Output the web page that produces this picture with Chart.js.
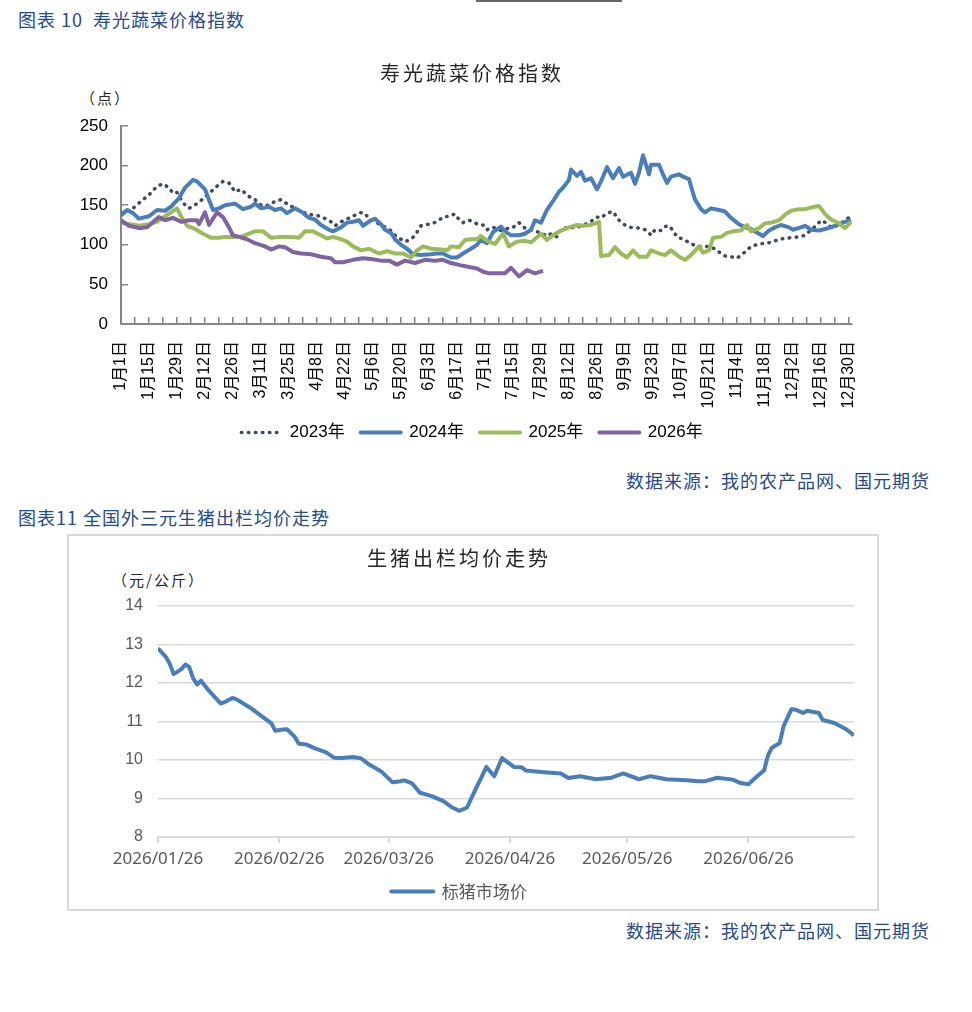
<!DOCTYPE html>
<html lang="zh-CN">
<head>
<meta charset="utf-8">
<title>寿光蔬菜价格指数 / 生猪出栏均价走势</title>
<script src="https://cdn.jsdelivr.net/npm/chart.js@4.4.1/dist/chart.umd.min.js"></script>
<style>
  body {
    margin: 0;
    background: #fff;
    width: 972px;
    height: 1012px;
    position: relative;
    overflow: hidden;
    font-family: 'Liberation Sans', 'Noto Sans CJK SC', sans-serif;
  }
  .abs { position: absolute; white-space: nowrap; line-height: 22px; }
  .caption { color: #264a8c; font-size: 18px; letter-spacing: 1px; font-family: 'Noto Sans CJK SC', sans-serif; }
  .unit { color: #262626; font-size: 15px; letter-spacing: 2px; font-family: 'Noto Sans CJK SC', sans-serif; }
  canvas { position: absolute; }
</style>
</head>
<body>
<div class="abs" style="left:476px; top:0; width:146px; height:2px; background:#666;"></div>

<div class="abs caption" style="left:18px; top:8px;">图表 10&nbsp;&nbsp;寿光蔬菜价格指数</div>
<div class="abs unit" style="left:80px; top:87px;">（点）</div>
<canvas id="vegChart" width="972" height="411" style="left:0; top:40px;"></canvas>
<div class="abs caption" style="right:42px; top:469px;">数据来源：我的农产品网、国元期货</div>

<div class="abs caption" style="left:18px; top:506px;">图表11&nbsp;全国外三元生猪出栏均价走势</div>
<div class="abs" style="left:67px; top:534px; width:808px; height:373px; border:2px solid #d9d9d9;"></div>
<div class="abs unit" style="left:112px; top:569px;">（元/公斤）</div>
<canvas id="pigChart" width="817" height="374" style="left:60px; top:536px;"></canvas>
<div class="abs caption" style="right:42px; top:919px;">数据来源：我的农产品网、国元期货</div>

<script>
// ---- 寿光蔬菜价格指数：按年内第几天记录 ----
const tickLabels = ['1月1日', '1月15日', '1月29日', '2月12日', '2月26日', '3月11日', '3月25日',
  '4月8日', '4月22日', '5月6日', '5月20日', '6月3日', '6月17日', '7月1日', '7月15日', '7月29日',
  '8月12日', '8月26日', '9月9日', '9月23日', '10月7日', '10月21日', '11月4日', '11月18日',
  '12月2日', '12月16日', '12月30日'];

const days2023 = [0,6,10,14,18,21,24,26,28,31,34,38,41,44,48,51,54,57,60,64,67,70,74,77,80,84,87,91,95,100,
  105,107,110,115,119,121,124,127,130,134,137,140,142,145,147,150,154,156,159,161,164,167,169,171,174,176,179,
  181,183,186,190,194,196,199,202,206,210,213,215,218,220,224,227,230,234,238,240,243,246,249,252,255,260,263,
  265,267,270,272,274,276,278,282,285,289,293,297,300,302,305,308,310,313,315,319,322,325,329,332,335,339,342,
  345,348,350,353,355,359,362,365];
const vals2023 = [140,146,155,163,174,177,172,165,166,153,146,152,158,165,174,180,178,167,170,161,157,150,150,
  155,157,150,146,141,138,136,129,124,129,135,140,141,134,129,125,120,112,107,104,107,112,124,126,127,131,135,
  136,139,132,128,131,129,125,125,119,122,118,121,122,128,121,118,115,111,114,110,119,123,121,124,128,135,134,
  140,142,131,125,122,121,118,112,119,118,123,124,118,110,106,101,98,98,95,89,86,85,83,87,93,98,101,102,103,
  107,108,109,110,112,119,125,131,127,122,125,131,136];

const days2024 = [0,3,6,9,14,18,22,25,29,32,36,38,42,44,46,49,52,57,61,65,67,70,74,77,80,83,87,90,94,97,100,
  104,106,110,113,116,119,121,125,127,130,132,135,137,140,143,146,150,155,158,161,165,168,171,175,178,180,183,
  186,190,192,195,199,202,205,207,210,213,216,219,221,224,225,228,230,232,235,238,240,243,246,249,251,255,257,
  259,261,264,265,269,271,273,275,279,281,284,285,287,290,292,295,299,302,305,309,312,315,319,321,324,327,330,
  334,336,340,342,345,349,352,355,359,362,365];
const vals2024 = [137,144,140,133,136,144,143,148,159,172,182,180,170,157,144,146,150,152,145,148,152,146,148,
  144,146,140,146,142,134,132,125,119,117,122,128,129,131,124,131,133,126,119,115,107,100,95,88,87,88,89,89,84,
  84,89,95,100,106,102,116,123,117,112,112,114,119,131,128,144,155,167,172,182,195,187,192,181,184,170,180,198,
  184,197,186,191,177,191,213,189,201,201,189,178,186,189,186,183,174,157,145,141,146,144,142,134,126,122,120,
  114,111,118,122,125,122,119,122,124,119,118,120,122,126,129,131];

const days2025 = [0,5,9,14,18,22,25,28,30,33,37,41,45,49,52,56,60,65,67,71,75,80,85,89,92,96,100,103,106,110,
  113,116,120,124,129,133,137,141,145,148,151,155,160,163,165,169,172,175,178,180,183,187,191,194,198,202,205,
  210,213,216,220,224,228,231,235,239,240,244,247,250,253,256,259,263,265,269,272,275,279,282,285,289,291,294,
  296,300,303,306,310,313,315,319,322,325,329,332,335,339,342,345,349,352,355,359,362,365];
const vals2025 = [128,126,124,126,129,136,141,146,136,124,120,114,109,109,110,110,110,115,117,117,109,110,110,
  109,117,117,112,108,110,107,104,98,93,95,89,92,89,89,84,93,98,95,94,93,98,97,106,107,107,111,105,101,114,98,
  104,105,103,114,106,112,118,122,125,124,125,129,86,87,97,89,84,93,85,85,93,89,87,93,85,81,87,98,90,93,109,
  110,115,117,118,125,117,121,127,128,131,138,143,145,145,147,149,139,132,127,121,129];

const days2026 = [0,4,9,13,17,19,22,26,30,34,38,39,42,44,48,51,54,56,59,63,67,72,75,79,82,86,90,95,100,105,
  107,111,116,121,125,130,134,138,142,147,152,157,161,165,170,174,178,181,184,188,192,195,199,203,207,211];
const vals2026 = [131,124,121,122,131,135,131,134,129,131,131,126,141,125,141,135,122,112,110,107,102,98,94,
  98,97,91,89,88,85,83,78,78,81,83,82,80,80,75,80,77,81,80,81,77,74,72,70,66,64,64,64,71,60,68,64,67];

// ---- 生猪出栏均价：自 2026/01/26 起的天数 ----
const pigTickLabels = ['2026/01/26', '2026/02/26', '2026/03/26', '2026/04/26', '2026/05/26', '2026/06/26'];
const pigDays = [0,2,3,4,6,7,8,9,10,11,13,16,17,19,20,24,29,30,32,33,35,36,38,40,43,45,47,50,52,54,57,60,62,
  63,65,67,70,73,75,77,79,81,84,86,88,91,93,94,98,103,105,108,110,112,116,119,123,126,130,134,136,138,140,143,
  147,149,151,153,155,156,157,159,160,162,163,165,166,169,170,173,176,178];
const pigPrices = [12.90,12.68,12.50,12.23,12.36,12.48,12.41,12.12,11.96,12.06,11.80,11.47,11.50,11.61,11.58,
  11.33,10.95,10.76,10.79,10.80,10.60,10.42,10.40,10.31,10.20,10.06,10.05,10.08,10.04,9.88,9.71,9.42,9.45,9.47,
  9.39,9.15,9.06,8.93,8.78,8.68,8.76,9.19,9.82,9.58,10.05,9.82,9.81,9.73,9.69,9.65,9.53,9.58,9.54,9.50,9.54,
  9.65,9.50,9.58,9.50,9.48,9.47,9.45,9.45,9.54,9.49,9.40,9.37,9.56,9.73,10.12,10.32,10.44,10.88,11.32,11.31,
  11.22,11.28,11.22,11.04,10.96,10.80,10.64];

const pts = (days, vals) => days.map((d, i) => ({ x: d, y: vals[i] }));
const dayOf = s => {
  const [y, m, d] = s.split('/').map(Number);
  return Math.round((Date.UTC(y, m - 1, d) - Date.UTC(2026, 0, 26)) / 864e5);
};
const pigTickDays = pigTickLabels.map(dayOf);

Chart.defaults.font.family = "'Liberation Sans', 'Noto Sans CJK SC', sans-serif";
Chart.defaults.animation = false;

// 标题字距
const titleSpacing = {
  id: 'titleSpacing',
  afterLayout(chart) {
    const t = chart.titleBlock;
    if (!t || t._spaced) return;
    const draw = t.draw.bind(t);
    t.draw = (...args) => {
      chart.ctx.save();
      chart.ctx.letterSpacing = '3px';
      draw(...args);
      chart.ctx.restore();
    };
    t._spaced = true;
  }
};

// 图例线型跟随数据线（点线 / 实线）
const lineLegend = chart =>
  Chart.defaults.plugins.legend.labels.generateLabels(chart).map(item => {
    const ds = chart.data.datasets[item.datasetIndex];
    return Object.assign(item, {
      lineDash: ds.borderDash || [],
      lineCap: 'round',
      lineWidth: ds.borderWidth,
      strokeStyle: ds.borderColor,
      fillStyle: ds.borderColor
    });
  });

const line = (label, data, color, extra) => Object.assign({
  label, data,
  borderColor: color, backgroundColor: color,
  borderWidth: 4, pointRadius: 0, pointStyle: 'line',
  tension: 0, borderJoinStyle: 'round'
}, extra);

const titleFont = { family: "'Noto Sans CJK SC', sans-serif", size: 20, weight: 'normal' };

new Chart(document.getElementById('vegChart'), {
  type: 'line',
  data: {
    datasets: [
      line('2023年', pts(days2023, vals2023), '#3d495c',
        { borderWidth: 3.5, borderDash: [0.5, 6.5], borderCapStyle: 'round', order: 3 }),
      line('2024年', pts(days2024, vals2024), '#4a7ebb', { order: 2 }),
      line('2025年', pts(days2025, vals2025), '#9bbb59', { order: 1 }),
      line('2026年', pts(days2026, vals2026), '#8064a2', { order: 0 })
    ]
  },
  options: {
    responsive: false,
    layout: { padding: { left: 70, right: 98, top: 0, bottom: 0 } },
    plugins: {
      title: {
        display: true, text: '寿光蔬菜价格指数', color: '#262626',
        font: titleFont, padding: { top: 21, bottom: 41 }
      },
      legend: {
        position: 'bottom',
        labels: {
          usePointStyle: true, pointStyleWidth: 40, padding: 16,
          color: '#000', font: { size: 17 },
          generateLabels: lineLegend,
          sort: (a, b) => a.datasetIndex - b.datasetIndex
        }
      },
      tooltip: { enabled: false }
    },
    scales: {
      x: {
        type: 'linear', min: 0, max: 365.5,
        afterFit: s => { s.height = 84; },
        border: { display: true, color: '#868686', width: 2 },
        grid: { drawOnChartArea: false, drawTicks: true, tickLength: -7, color: '#868686', lineWidth: 1.5 },
        ticks: {
          stepSize: 7, includeBounds: false, autoSkip: false,
          minRotation: 90, maxRotation: 90, padding: 24,
          color: '#000', font: { size: 16 },
          callback: v => (Math.round(v) % 14 === 0 ? tickLabels[Math.round(v) / 14] : '')
        }
      },
      y: {
        min: 0, max: 250,
        afterFit: s => { s.width = 51; },
        border: { display: true, color: '#868686', width: 2 },
        grid: { drawOnChartArea: false, drawTicks: true, tickLength: -7, color: '#868686', lineWidth: 1.5 },
        ticks: { stepSize: 50, padding: 20, color: '#000', font: { size: 17 } }
      },
      // 右侧留白，使标题与图例居中位置与原图一致
      pad: {
        type: 'linear', position: 'right',
        afterFit: s => { s.width = 22; },
        border: { display: false },
        grid: { display: false },
        ticks: { display: false }
      }
    }
  },
  plugins: [titleSpacing]
});

new Chart(document.getElementById('pigChart'), {
  type: 'line',
  data: {
    datasets: [line('标猪市场价', pts(pigDays, pigPrices), '#4a7ebb')]
  },
  options: {
    responsive: false,
    layout: { padding: { left: 4, right: 23, top: 0, bottom: 0 } },
    plugins: {
      title: {
        display: true, text: '生猪出栏均价走势', color: '#262626',
        font: titleFont, padding: { top: 10, bottom: 36 }
      },
      legend: {
        position: 'bottom',
        labels: {
          usePointStyle: true, pointStyleWidth: 42, padding: 8,
          color: '#595959', font: { family: "'Noto Sans CJK SC', sans-serif", size: 17 },
          generateLabels: lineLegend
        }
      },
      tooltip: { enabled: false }
    },
    scales: {
      x: {
        type: 'linear', min: 0, max: 178,
        afterBuildTicks: s => { s.ticks = pigTickDays.map(v => ({ value: v })); },
        afterFit: s => { s.height = 38; },
        border: { display: true, color: '#d9d9d9', width: 2 },
        grid: { drawOnChartArea: false, drawTicks: true, tickLength: 6, color: '#d9d9d9', lineWidth: 2 },
        ticks: {
          autoSkip: false, maxRotation: 0, padding: 6,
          color: '#595959', font: { family: "'Noto Sans', sans-serif", size: 17 },
          callback: v => pigTickLabels[pigTickDays.indexOf(Math.round(v))]
        }
      },
      y: {
        min: 8, max: 14,
        afterFit: s => { s.width = 94; },
        border: { display: false },
        grid: { drawTicks: false, color: '#d9d9d9', lineWidth: 1.5 },
        ticks: { stepSize: 1, padding: 15, color: '#595959', font: { size: 16 } }
      }
    }
  },
  plugins: [titleSpacing]
});
</script>
</body>
</html>
